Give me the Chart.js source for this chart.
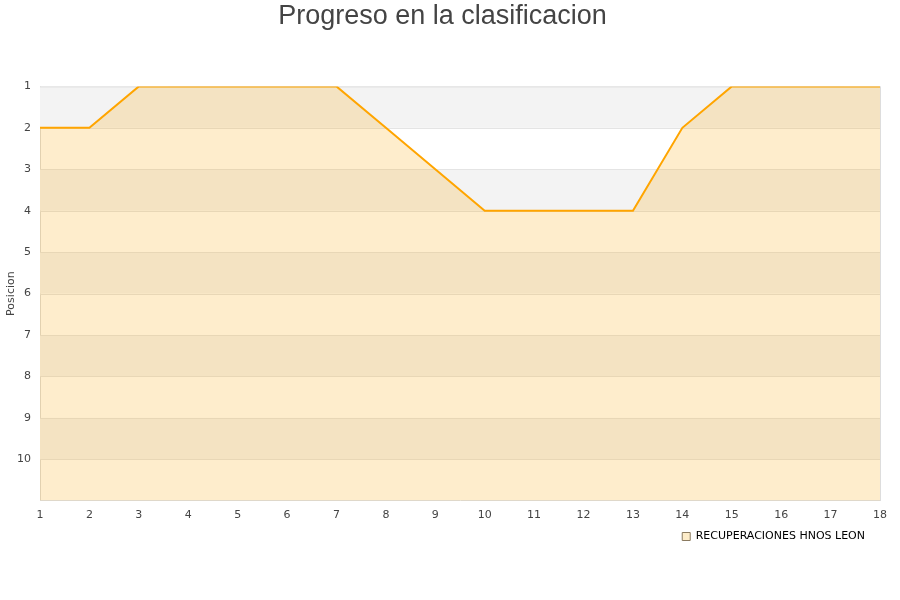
<!DOCTYPE html>
<html>
<head>
<meta charset="utf-8">
<script src="https://cdn.jsdelivr.net/npm/chart.js@4"></script>
<style>
  html, body { margin: 0; padding: 0; background: #fff; }
</style>
</head>
<body>
<canvas id="progresoChart" width="900" height="600"></canvas>
<script>
// Jornadas y posicion del equipo en cada una
var jornadas = [1, 2, 3, 4, 5, 6, 7, 8, 9, 10, 11, 12, 13, 14, 15, 16, 17, 18];
var posiciones = [2, 2, 1, 1, 1, 1, 1, 2, 3, 4, 4, 4, 4, 2, 1, 1, 1, 1];
var equipo = 'RECUPERACIONES HNOS LEON';
var posicionTicks = [1, 2, 3, 4, 5, 6, 7, 8, 9, 10];

// bandas grises alternas detras del area
var bandas = {
    id: 'bandas',
    afterLayout: function(chart) {
        // leyenda un poco separada del borde derecho
        if (chart.legend) chart.legend.right -= 6;
    },
    beforeDatasetsDraw: function(chart) {
        var ctx = chart.ctx, y = chart.scales.y, area = chart.chartArea;
        ctx.save();
        ctx.fillStyle = '#f3f3f3';
        for (var v = y.min; v < y.max; v += 2) {
            var top = y.getPixelForValue(v);
            var bot = y.getPixelForValue(v + 1);
            ctx.fillRect(area.left, top, area.right - area.left, bot - top);
        }
        // lineas de la rejilla sobre las bandas
        ctx.strokeStyle = '#e4e4e4';
        ctx.lineWidth = 1;
        ctx.beginPath();
        for (var t = y.min + 1; t < y.max; t++) {
            var py = Math.round(y.getPixelForValue(t)) + 0.5;
            ctx.moveTo(area.left, py);
            ctx.lineTo(area.right, py);
        }
        ctx.stroke();
        // marco derecho y superior
        ctx.strokeStyle = '#ddd';
        ctx.beginPath();
        ctx.moveTo(area.right + 0.5, area.top);
        ctx.lineTo(area.right + 0.5, area.bottom);
        ctx.moveTo(area.left, area.top + 0.5);
        ctx.lineTo(area.right, area.top + 0.5);
        ctx.stroke();
        ctx.restore();
    }
};

var ctx = document.getElementById('progresoChart').getContext('2d');
var progresoChart = new Chart(ctx, {
    type: 'line',
    data: {
        labels: jornadas,
        datasets: [{
            label: equipo,
            data: jornadas.map(function(j, i) { return { x: j, y: posiciones[i] }; }),
            borderColor: '#ffa500',
            backgroundColor: 'rgba(250, 165, 0, 0.2)',
            borderWidth: 2,
            pointRadius: 0,
            tension: 0,
            clip: 0,
            fill: 'start'
        }]
    },
    options: {
        responsive: false,
        animation: false,
        layout: { padding: { left: 5, right: 20, top: 0, bottom: 48 } },
        plugins: {
            title: {
                display: true,
                text: 'Progreso en la clasificacion',
                color: '#444',
                font: { family: 'Arial, "Liberation Sans", sans-serif', size: 27, weight: 'normal' },
                padding: { top: 0, bottom: 54 }
            },
            legend: {
                position: 'bottom',
                align: 'end',
                labels: {
                    color: '#000',
                    font: { family: '"DejaVu Sans"', size: 11 },
                    boxWidth: 8,
                    boxHeight: 8,
                    padding: 9,
                    generateLabels: function(chart) {
                        return [{
                            text: equipo,
                            fillStyle: '#fdecc9',
                            strokeStyle: '#8a7a60',
                            lineWidth: 1,
                            datasetIndex: 0
                        }];
                    }
                }
            },
            tooltip: { enabled: false }
        },
        scales: {
            x: {
                type: 'linear',
                min: 1,
                max: 18,
                grid: { display: false },
                border: { color: '#ddd' },
                ticks: {
                    stepSize: 1,
                    autoSkip: false,
                    maxRotation: 0,
                    color: '#444',
                    font: { family: '"DejaVu Sans"', size: 11 },
                    padding: 0
                }
            },
            y: {
                type: 'linear',
                reverse: true,
                min: 1,
                max: 11,
                afterFit: function(scale) { scale.width = 35; },
                grid: { color: 'rgba(0,0,0,0)', drawTicks: false },
                border: { color: '#ddd' },
                title: {
                    display: true,
                    text: 'Posicion',
                    color: '#444',
                    font: { family: '"DejaVu Sans"', size: 11 },
                    padding: 0
                },
                ticks: {
                    stepSize: 1,
                    color: '#444',
                    font: { family: '"DejaVu Sans"', size: 11 },
                    padding: 9,
                    callback: function(v) { return posicionTicks.indexOf(v) >= 0 ? v : ''; }
                }
            }
        }
    },
    plugins: [bandas]
});
</script>
</body>
</html>
